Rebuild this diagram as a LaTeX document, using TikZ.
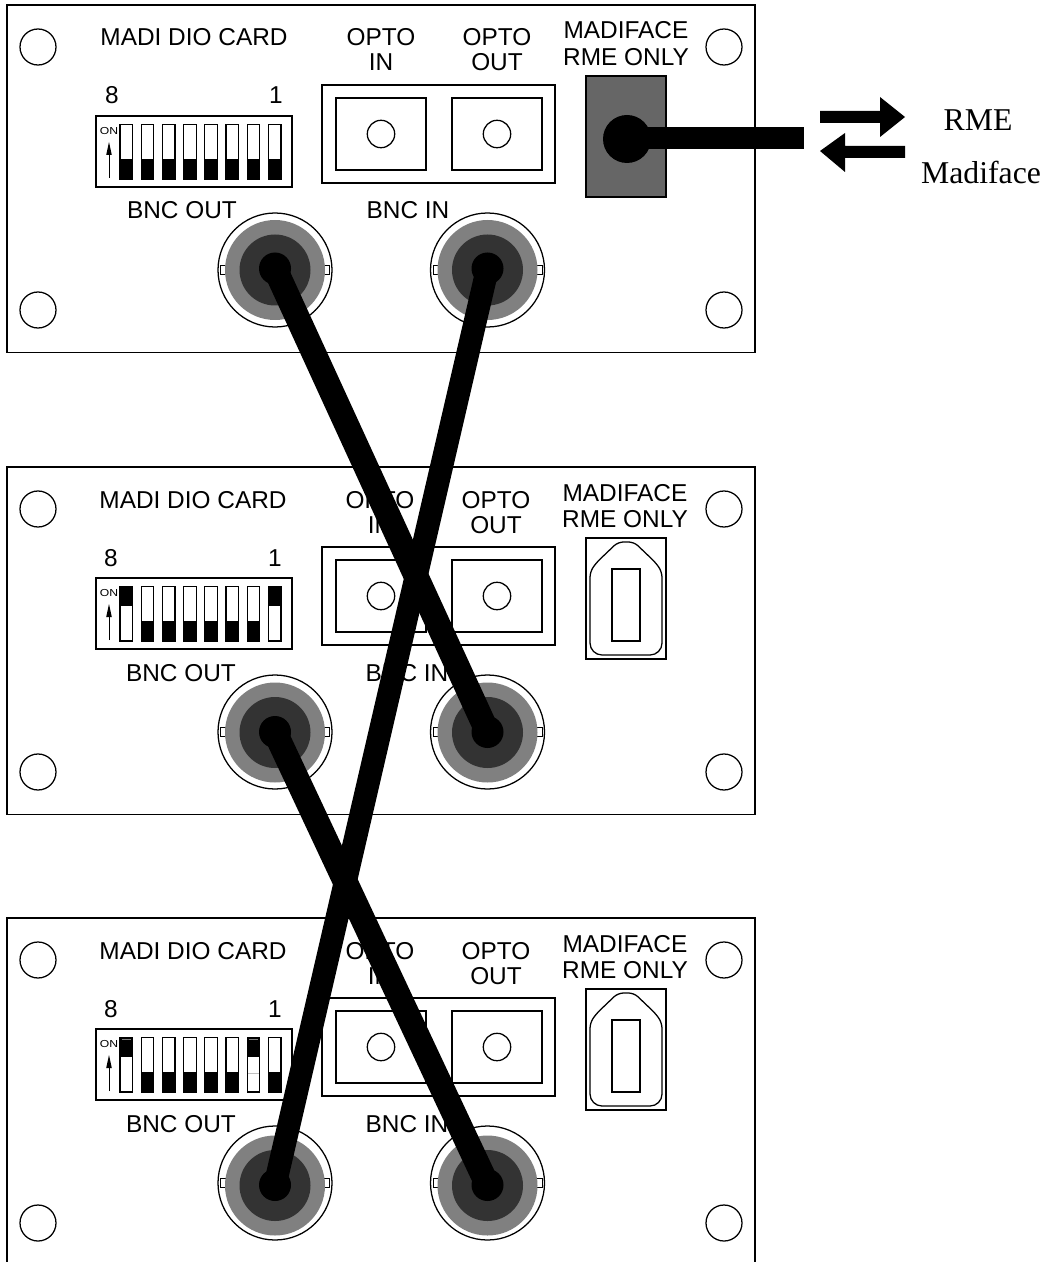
\documentclass[tikz,border=0pt]{standalone}
\usepackage{fontspec}
\setmainfont{Liberation Sans}
\newfontfamily\serifface{Liberation Serif}
\tikzset{
  px/.style={x=0.75pt,y=-0.75pt},
  plate/.style={draw=black,line width=1.2pt,fill=white},
  thinline/.style={draw=black,line width=0.95pt},
  lab/.style={anchor=base,inner sep=0pt,font=\fontsize{18.3}{20}\selectfont},
  rmelab/.style={anchor=base,inner sep=0pt,font=\serifface\fontsize{23.8}{26}\selectfont},
  cable/.style={draw=black,line width=18.5pt},
  cablesteep/.style={draw=black,line width=17.2pt},
}
\definecolor{bncgray}{HTML}{808080}
\definecolor{bncdark}{HTML}{333333}
\definecolor{portgray}{HTML}{666666}
\newcommand{\bncjack}[5]{% name, x, y, face offset, pin offset
  \begin{scope}[shift={(#2,#3)}]
    \draw[thinline] (0,0) circle [radius=57];
    \draw[line width=0.75pt] (-54.5,-4.5) rectangle (54.5,4.5);
    \fill[bncgray] (0,#4) circle [radius=50];
    \fill[bncdark] (0,#4) circle [radius=35.5];
    \fill[black] (0,#5) circle [radius=16];
    \coordinate (#1) at (0,#5);
  \end{scope}}
\newcommand{\madipanel}[6]{% name, plate y, text shift, switch states, face offset, pin offset
  \begin{scope}[shift={(0,#2)}]
    \draw[plate] (7,5) rectangle (755,352.5);
    \foreach \px/\py in {38/47,38/310,724/47,724/310}
      \draw[thinline] (\px,\py) circle [radius=18];
    \node[lab] (#1title) at (194+#3,46) {MADI DIO CARD};
    \node[lab] (#1optoa) at (381+#3,46) {OPTO};
    \node[lab] (#1optob) at (381+#3,71) {IN};
    \node[lab] (#1optoc) at (497+#3,46) {OPTO};
    \node[lab] (#1optod) at (497+#3,71) {OUT};
    \node[lab] (#1mada) at (626+#3,39) {MADIFACE};
    \node[lab] (#1madb) at (626+#3,65.5) {RME ONLY};
    \node[lab] (#1eight) at (112+#3,104) {8};
    \node[lab] (#1one) at (276+#3,104) {1};
    \node[lab] (#1bout) at (182+#3,219) {BNC OUT};
    \node[lab] (#1bin) at (408+#3,219) {BNC IN};
    % DIP switch
    \draw[thinline] (96,116) rectangle (292,187);
    \node[anchor=center,inner sep=0pt,font=\fontsize{7.6}{8}\selectfont,xscale=1.2] (#1on) at (109,131) {ON};
    \draw[line width=0.5pt] (109,178) -- (109,150);
    \fill[black] (109,142) -- (111.8,155) -- (106.2,155) -- cycle;
    \foreach \s [count=\i from 0] in {#4} {
      \pgfmathsetmacro{\swx}{120+21.2*\i}
      \draw[thinline,fill=white] (\swx,124.5) rectangle (\swx+12.6,179);
      \ifnum\s=0 \fill[black] (\swx-0.6,159) rectangle (\swx+13.2,179.5); \fi
      \ifnum\s>0 \fill[black] (\swx-0.6,124) rectangle (\swx+13.2,144); \fi
      \ifnum\s>1 \draw[bncgray,line width=0.9pt] (\swx+1.5,126.5) -- (\swx+11,126.5); \fi
      \ifnum\s>2 \draw[lightgray,line width=0.6pt] (\swx+1,160) -- (\swx+11.6,160); \fi
    }
    % optical block
    \draw[thinline] (322,85) rectangle (555,183);
    \draw[thinline] (336,98) rectangle (426,170);
    \draw[thinline] (452,98) rectangle (542,170);
    \draw[thinline] (381,134) circle [radius=13.7];
    \draw[thinline] (497,134) circle [radius=13.7];
    % interface socket
    \draw[thinline] (586,76) rectangle (666,197);
    \draw[thinline] (626,193) [rounded corners=9] -- (590,193) [rounded corners=4] -- (590,110) -- (596,101) -- (618,80) -- (634,80) -- (656,101) -- (662,110) [rounded corners=9] -- (662,193) -- cycle;
    \draw[thinline] (612,107) rectangle (640,179);
    \bncjack{#1left}{275}{270}{#5}{#6}
    \bncjack{#1right}{487.5}{270}{#5}{#6}
  \end{scope}}
\begin{document}
\begin{tikzpicture}[px]
\useasboundingbox (0,0) rectangle (1049,1262);
\clip (0,0) rectangle (1049,1262);
\madipanel{a}{0}{0}{0,0,0,0,0,0,0,0}{0}{-1.5}
\madipanel{b}{462}{-1}{1,0,0,0,0,0,0,1}{0.5}{0}
\madipanel{c}{913}{-1}{2,0,0,0,0,0,3,0}{2.5}{2}
% filled RME port on the top panel
\draw[line width=0.9pt,fill=portgray] (586,76) rectangle (666,197);
\draw[draw=black!60,line width=0.6pt] (588,79) rectangle (664,194);
\coordinate (portc) at (627,139);
\coordinate (cablestart) at (627,138);
\coordinate (cableend) at (804,138);
\fill[black] (portc) circle [radius=24];
\draw[draw=black,line width=16.5pt] (cablestart) -- (cableend);
% crossing cables
\draw[cable] (aleft) -- (bright);
\draw[cablesteep] (aright) -- (cleft);
\draw[cable] (bleft) -- (cright);
% direction arrows
\coordinate (rtip) at (905,117);
\coordinate (ltip) at (820,151);
\fill[black] (820,111) -- (880,111) -- (880,97) -- (rtip) -- (880,137) -- (880,123) -- (820,123) -- cycle;
\fill[black] (905,146) -- (845,146) -- (845,133) -- (ltip) -- (845,172) -- (845,158) -- (905,158) -- cycle;
\node[rmelab] (rme) at (978,131) {RME};
\node[rmelab] (madiface) at (981,184) {Madiface};
\end{tikzpicture}
\end{document}
